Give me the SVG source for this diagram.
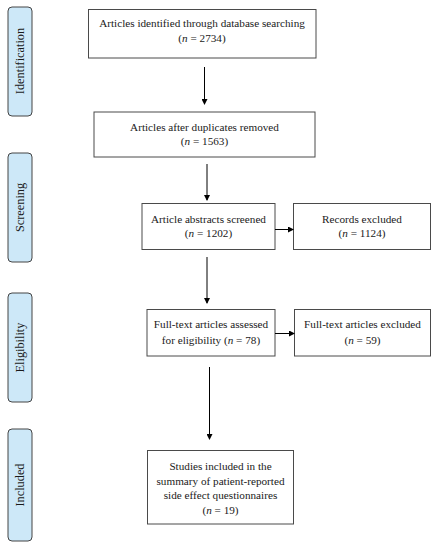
<svg xmlns="http://www.w3.org/2000/svg" width="437" height="550" viewBox="0 0 437 550">
<defs>
<marker id="ah" markerWidth="6" markerHeight="6" refX="5" refY="3" orient="auto" markerUnits="userSpaceOnUse">
<path d="M0,0 L6,3 L0,6 Z" fill="#000"/>
</marker>
<style>
.box{fill:#fff;stroke:#4a4a4a;stroke-width:1}
.lab{fill:#cde8f8;stroke:#444;stroke-width:1}
text{font-family:"Liberation Serif","DejaVu Serif",serif;font-size:11.2px;fill:#1a1a1a;text-anchor:middle}
.lt{font-size:12.3px}
.con{stroke:#000;stroke-width:1;fill:none;marker-end:url(#ah)}
</style>
</defs>
<rect width="437" height="550" fill="#fff"/>
<g id="stage-identification">
<rect class="lab" x="8" y="7" width="24" height="109" rx="4"/>
<text class="lt" transform="translate(23.5,61) rotate(-90)">Identification</text>
</g>
<g id="stage-screening">
<rect class="lab" x="8" y="153" width="24" height="109" rx="4"/>
<text class="lt" transform="translate(23.5,207.5) rotate(-90)">Screening</text>
</g>
<g id="stage-eligibility">
<rect class="lab" x="8" y="293" width="24" height="109" rx="4"/>
<text class="lt" transform="translate(23.5,347.5) rotate(-90)">Eligibility</text>
</g>
<g id="stage-included">
<rect class="lab" x="8" y="429" width="24" height="112" rx="4"/>
<text class="lt" transform="translate(23.5,485) rotate(-90)">Included</text>
</g>
<g id="n1">
<rect class="box" x="88.5" y="9.5" width="227.5" height="48.5"/>
<text x="202" y="26.5">Articles identified through database searching</text>
<text x="202" y="41.5">(<tspan font-style="italic">n</tspan> = 2734)</text>
</g>
<g id="n2">
<rect class="box" x="94" y="112" width="221" height="45"/>
<text x="204.5" y="130.5">Articles after duplicates removed</text>
<text x="204.5" y="145">(<tspan font-style="italic">n</tspan> = 1563)</text>
</g>
<g id="n3">
<rect class="box" x="142" y="203.5" width="133" height="46"/>
<text x="208.5" y="222.5">Article abstracts screened</text>
<text x="208.5" y="237">(<tspan font-style="italic">n</tspan> = 1202)</text>
</g>
<g id="n4">
<rect class="box" x="293.5" y="203.5" width="137" height="46"/>
<text x="362" y="222.5">Records excluded</text>
<text x="362" y="237">(<tspan font-style="italic">n</tspan> = 1124)</text>
</g>
<g id="n5">
<rect class="box" x="147" y="309.5" width="128" height="46.5"/>
<text x="211" y="328">Full-text articles assessed</text>
<text x="211" y="344">for eligibility (<tspan font-style="italic">n</tspan> = 78)</text>
</g>
<g id="n6">
<rect class="box" x="294.5" y="309.5" width="136" height="46.5"/>
<text x="362.5" y="328">Full-text articles excluded</text>
<text x="362.5" y="344">(<tspan font-style="italic">n</tspan> = 59)</text>
</g>
<g id="n7">
<rect class="box" x="147.5" y="450.5" width="146" height="73.5"/>
<text x="220.5" y="469.5">Studies included in the</text>
<text x="220.5" y="484.5">summary of patient-reported</text>
<text x="220.5" y="498.5">side effect questionnaires</text>
<text x="220.5" y="513.5">(<tspan font-style="italic">n</tspan> = 19)</text>
</g>
<g id="connectors">
<line class="con" x1="204.5" y1="67" x2="204.5" y2="104"/>
<line class="con" x1="207" y1="164" x2="207" y2="200"/>
<line class="con" x1="275" y1="229.5" x2="293" y2="229.5"/>
<line class="con" x1="207" y1="257" x2="207" y2="303"/>
<line class="con" x1="275" y1="333.5" x2="294" y2="333.5"/>
<line class="con" x1="209.5" y1="367" x2="209.5" y2="439"/>
</g>
</svg>
